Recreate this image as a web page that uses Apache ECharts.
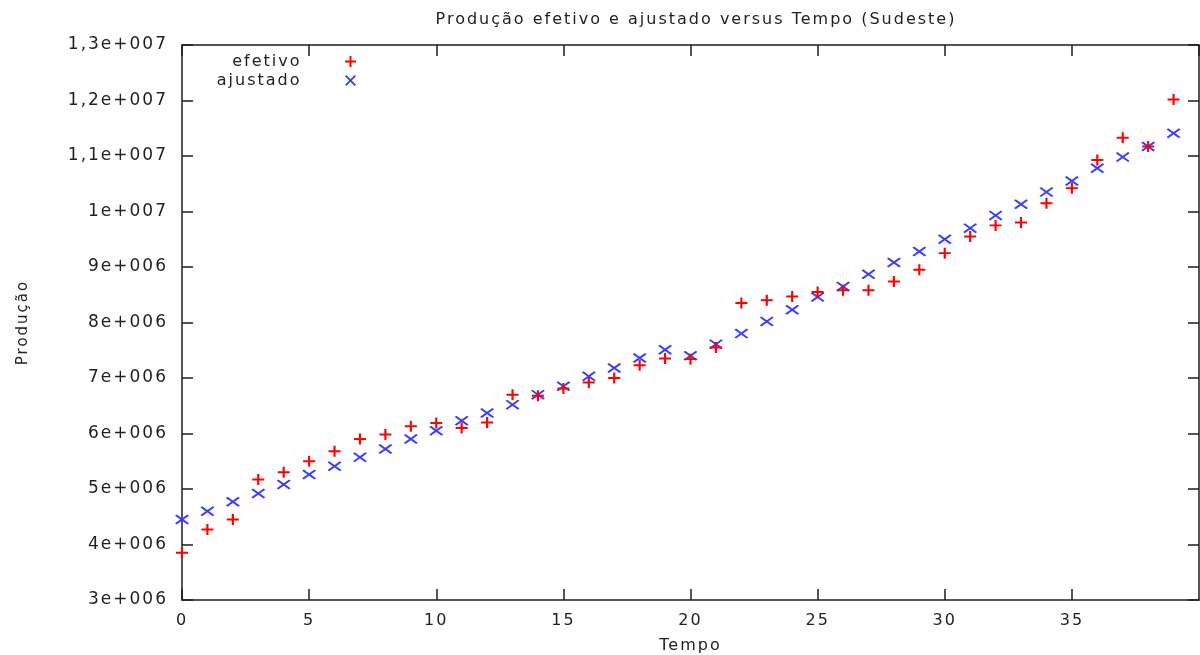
<!DOCTYPE html>
<html>
<head>
<meta charset="utf-8">
<script src="https://cdn.jsdelivr.net/npm/echarts@6/dist/echarts.min.js"></script>
<style>html,body{margin:0;padding:0;background:#fff}#c{width:1200px;height:655px}</style>
</head>
<body>
<div id="c"></div>
<script>
const tempo = [0,1,2,3,4,5,6,7,8,9,10,11,12,13,14,15,16,17,18,19,20,21,22,23,24,25,26,27,28,29,30,31,32,33,34,35,36,37,38,39];
const efetivo = [3.85e6,4.27e6,4.45e6,5.17e6,5.30e6,5.50e6,5.68e6,5.90e6,5.98e6,6.13e6,6.19e6,6.10e6,6.20e6,6.70e6,6.68e6,6.81e6,6.92e6,7.00e6,7.23e6,7.35e6,7.34e6,7.55e6,8.35e6,8.40e6,8.47e6,8.55e6,8.58e6,8.58e6,8.74e6,8.95e6,9.25e6,9.55e6,9.75e6,9.80e6,10.15e6,10.42e6,10.93e6,11.33e6,11.17e6,12.02e6];
const ajustado = [4.45e6,4.60e6,4.77e6,4.92e6,5.08e6,5.26e6,5.41e6,5.57e6,5.72e6,5.90e6,6.05e6,6.23e6,6.37e6,6.52e6,6.70e6,6.85e6,7.03e6,7.18e6,7.36e6,7.51e6,7.40e6,7.61e6,7.80e6,8.02e6,8.23e6,8.46e6,8.65e6,8.87e6,9.08e6,9.28e6,9.50e6,9.70e6,9.93e6,10.13e6,10.35e6,10.55e6,10.78e6,10.98e6,11.17e6,11.41e6];
const yTickValues = [3e6,4e6,5e6,6e6,7e6,8e6,9e6,1e7,1.1e7,1.2e7,1.3e7];
const yTickLabels = ['3e+006','4e+006','5e+006','6e+006','7e+006','8e+006','9e+006','1e+007','1,1e+007','1,2e+007','1,3e+007'];
const xTickLabels = ['0','5','10','15','20','25','30','35',''];
const seriesNames = ['efetivo','ajustado'];
const titleText = 'Produção efetivo e ajustado versus Tempo (Sudeste)';
const xName = 'Tempo';
const yName = 'Produção';

// widen glyph spacing like the original renderer
(function(){
  const P = CanvasRenderingContext2D.prototype;
  if (!('letterSpacing' in P)) return;
  const ft = P.fillText, mt = P.measureText;
  P.fillText = function(){ this.letterSpacing = '2px'; return ft.apply(this, arguments); };
  P.measureText = function(){ this.letterSpacing = '2px'; return mt.apply(this, arguments); };
})();

const FONT = 'Verdana, "DejaVu Sans", sans-serif';
const TXT = '#222';
const LINE = '#1e1e1e';
const plusPath = 'path://M0,4.1H10V5.9H0Z M4.1,0H5.9V10H4.1Z';
const crossPath = 'path://M0,1.2L1.2,0L10,8.8L8.8,10Z M8.8,0L10,1.2L1.2,10L0,8.8Z';

const chart = echarts.init(document.getElementById('c'), null, {renderer:'canvas'});
const xCommon = {type:'value', min:0, max:40, interval:5, splitLine:{show:false},
  axisLine:{show:true, onZero:false, lineStyle:{color:LINE, width:1.5}},
  axisTick:{show:true, inside:true, length:11, lineStyle:{color:LINE, width:1.5}}};
const yCommon = {type:'value', min:3e6, max:1.3e7, interval:1e6, splitLine:{show:false},
  axisLine:{show:true, onZero:false, lineStyle:{color:LINE, width:1.5}},
  axisTick:{show:true, inside:true, length:11, lineStyle:{color:LINE, width:1.5}}};

chart.setOption({
  animation:false,
  backgroundColor:'#fff',
  title:{text:titleText, left:691, textAlign:'center', top:6,
    textStyle:{fontFamily:FONT, fontSize:16, fontWeight:'normal', color:TXT}},
  grid:{left:182, right:1, top:45, bottom:55, containLabel:false, outerBoundsMode:'none'},
  legend:{orient:'vertical', right:839, top:47, align:'right', itemGap:0,
    itemWidth:12, itemHeight:11,
    data:[{name:seriesNames[0], icon:plusPath},{name:seriesNames[1], icon:crossPath}],
    formatter:'{t|{name}}',
    textStyle:{color:TXT, fontFamily:FONT, fontSize:16, lineHeight:19,
      rich:{t:{width:110, align:'right', padding:[0,38,0,0], fontFamily:FONT, fontSize:16, color:TXT, lineHeight:19}}}},
  xAxis:[
    Object.assign({}, xCommon, {position:'bottom', name:xName, nameLocation:'middle', nameGap:37,
      nameTextStyle:{fontFamily:FONT, fontSize:16, color:TXT},
      axisLabel:{show:true, margin:12, fontFamily:FONT, fontSize:16, color:TXT, showMaxLabel:false,
        formatter:function(v){ return xTickLabels[Math.round(v/5)]; }}}),
    Object.assign({}, xCommon, {position:'top', axisLabel:{show:false}})
  ],
  yAxis:[
    Object.assign({}, yCommon, {position:'left', name:yName, nameLocation:'middle', nameGap:150,
      nameTextStyle:{fontFamily:FONT, fontSize:15, color:TXT},
      axisLabel:{show:true, margin:14, fontFamily:FONT, fontSize:17, color:TXT,
        formatter:function(v){ const i = yTickValues.indexOf(v); return i>=0 ? yTickLabels[i] : ''; }}}),
    Object.assign({}, yCommon, {position:'right', axisLabel:{show:false}})
  ],
  series:[
    {name:seriesNames[0], type:'scatter', symbol:plusPath, symbolSize:[12,11],
      itemStyle:{color:'#ff0000', opacity:1}, data:tempo.map((t,i)=>[t, efetivo[i]]), z:3},
    {name:seriesNames[1], type:'scatter', symbol:crossPath, symbolSize:[14,10],
      itemStyle:{color:'#3c3cff', opacity:1}, data:tempo.map((t,i)=>[t, ajustado[i]]), z:2}
  ]
});
</script>
</body>
</html>
